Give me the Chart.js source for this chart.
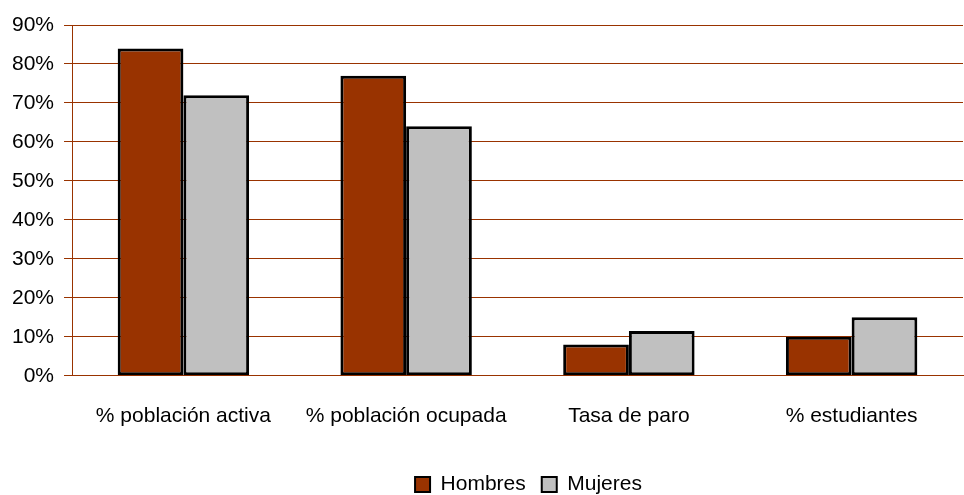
<!DOCTYPE html>
<html>
<head>
<meta charset="utf-8">
<script src="https://cdn.jsdelivr.net/npm/chart.js@4/dist/chart.umd.min.js"></script>
<style>
  html, body { margin: 0; padding: 0; background: #fff; }
  #chart { display: block; }
</style>
</head>
<body>
<canvas id="chart" width="964" height="495"></canvas>
<script>
const categories = ['% población activa', '% población ocupada', 'Tasa de paro', '% estudiantes'];
const hombres = [84, 77, 8, 10];
const mujeres = [72, 64, 11.5, 15];
const yTicks = [0, 10, 20, 30, 40, 50, 60, 70, 80, 90];

const brown = '#993300';
const fontFamily = "'Liberation Sans Narrow', 'Arial Narrow', 'Liberation Sans', sans-serif";

// nudge the legend a bit to the right, like the original
const legendShift = {
  id: 'legendShift',
  afterLayout(chart) {
    const lg = chart.legend;
    if (lg) { lg.left += 46; lg.right += 46; }
  }
};

const ctx = document.getElementById('chart');
new Chart(ctx, {
  type: 'bar',
  data: {
    labels: categories,
    datasets: [
      {
        label: 'Hombres',
        data: hombres,
        backgroundColor: brown,
        borderColor: '#000',
        borderWidth: 3,
        borderSkipped: false
      },
      {
        label: 'Mujeres',
        data: mujeres,
        backgroundColor: '#c0c0c0',
        borderColor: '#000',
        borderWidth: 3,
        borderSkipped: false
      }
    ]
  },
  plugins: [legendShift],
  options: {
    responsive: false,
    animation: false,
    layout: { padding: { top: 25, right: 1, left: 2, bottom: -10 } },
    datasets: {
      bar: { categoryPercentage: 0.59, barPercentage: 1.0 }
    },
    scales: {
      x: {
        grid: { display: false },
        border: { display: true, color: brown, width: 1 },
        ticks: { color: '#000', padding: 20, font: { family: fontFamily, size: 21 } },
        afterFit: (scale) => { scale.height += 9; }
      },
      y: {
        min: 0,
        max: 90,
        afterBuildTicks: (axis) => { axis.ticks = yTicks.map(v => ({ value: v })); },
        grid: { color: brown, lineWidth: 1, tickLength: 8 },
        border: { display: true, color: brown, width: 1 },
        ticks: {
          color: '#000',
          padding: 10,
          font: { family: fontFamily, size: 21 },
          callback: (v) => v + '%'
        }
      }
    },
    plugins: {
      tooltip: { enabled: false },
      legend: {
        position: 'bottom',
        labels: {
          color: '#000',
          boxWidth: 15,
          boxHeight: 15,
          padding: 16,
          font: { family: fontFamily, size: 21 },
          generateLabels: (chart) => chart.data.datasets.map((ds, i) => ({
            text: ds.label,
            fillStyle: ds.backgroundColor,
            strokeStyle: '#000',
            lineWidth: 2,
            datasetIndex: i,
            fontColor: '#000'
          }))
        }
      }
    }
  }
});
</script>
</body>
</html>
